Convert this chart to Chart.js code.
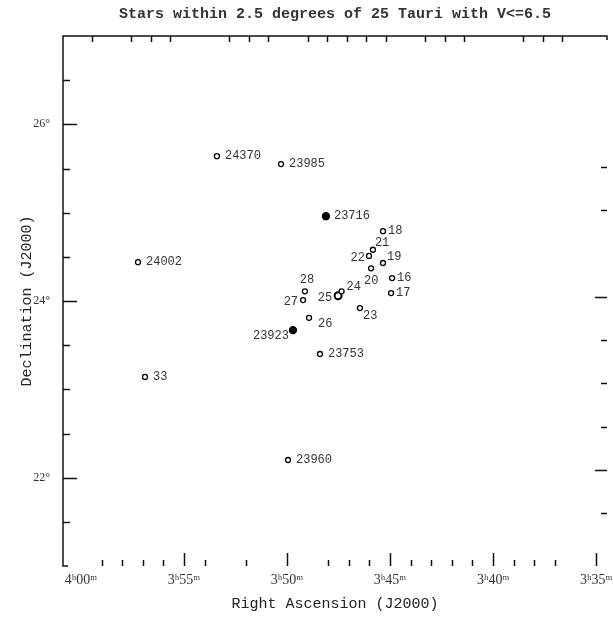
<!DOCTYPE html>
<html>
<head>
<meta charset="utf-8">
<script src="https://cdn.jsdelivr.net/npm/chart.js@4"></script>
<style>
  html, body { margin: 0; padding: 0; background: #fff; }
  #wrap { width: 613px; height: 623px; }
</style>
</head>
<body>
<div id="wrap"><canvas id="pleiades"></canvas></div>
<script>
// RA is in minutes past 3h, Dec in degrees
var starNames = ['24370', '23985', '23716', '18', '21', '22', '19', '20', '16', '17', '23',
                 '25', '24', '28', '27', '26', '23923', '23753', '24002', '33', '23960'];
var starRA  = [53.40, 50.29, 48.11, 45.34, 45.83, 46.02, 45.34, 45.92, 44.90, 44.95, 46.46,
               47.52, 47.35, 49.13, 49.22, 48.93, 49.71, 48.40, 57.23, 56.89, 49.95];
var starDec = [25.64, 25.55, 24.96, 24.79, 24.58, 24.51, 24.43, 24.37, 24.26, 24.09, 23.92,
               24.06, 24.11, 24.11, 24.01, 23.81, 23.67, 23.40, 24.44, 23.14, 22.20];
var filledStars = ['23716', '23923'];

var raTicks = [60, 55, 50, 45, 40, 35];
var raTickLabels = ['4ʰ00ᵐ', '3ʰ55ᵐ', '3ʰ50ᵐ', '3ʰ45ᵐ', '3ʰ40ᵐ', '3ʰ35ᵐ'];
var raMinor = [59, 58, 57, 56, 54, 52, 48, 47, 46, 44, 43, 42, 41, 39, 38, 37];
var raTopTicks = [60, 58, 57, 56, 53, 52, 51, 49, 48, 47, 46, 45, 43, 42, 41, 38, 37, 36];
var decTicks = [26, 24, 22];
var decTickLabels = ['26°', '24°', '22°'];
var decMinor = [26.5, 25.5, 25, 24.5, 23.5, 23, 22.5, 21.5];
var decRightMajor = [24, 22];
var decRightMinor = [25.5, 25, 23.5, 23, 22.5, 21.5];

// where each label sits relative to its star
var labelPlace = {
  '22': [-4, 2, 'right'], '25': [-6, 2, 'right'], '27': [-5, 2, 'right'],
  '23923': [-4, 6, 'right'], '21': [2, -7, 'left'], '28': [2, -11, 'center'],
  '20': [-7, 13, 'left'], '23': [3, 8, 'left'], '26': [9, 6, 'left'],
  '24': [5, -4, 'left'], '19': [4, -6, 'left'], '18': [5, 0, 'left'],
  '16': [5, 0, 'left'], '17': [5, 0, 'left']
};

var points = starNames.map(function(n, i) { return {x: starRA[i], y: starDec[i], name: n}; });

var inkTicks = {
  id: 'inkTicks',
  afterDraw: function(chart) {
    var ctx = chart.ctx, a = chart.chartArea, s = chart.scales;
    ctx.save();
    ctx.strokeStyle = '#111';
    ctx.lineWidth = 1.5;
    ctx.beginPath();
    ctx.moveTo(a.left + 5, a.bottom); ctx.lineTo(a.left, a.bottom);
    ctx.lineTo(a.left, a.top); ctx.lineTo(a.right, a.top); ctx.lineTo(a.right, a.top + 4);
    function vt(scale, vals, len, y0, dir) {
      vals.forEach(function(v) {
        var x = Math.round(scale.getPixelForValue(v)) + 0.5;
        ctx.moveTo(x, y0); ctx.lineTo(x, y0 + dir * len);
      });
    }
    function ht(scale, vals, len, x0, dir) {
      vals.forEach(function(v) {
        var y = Math.round(scale.getPixelForValue(v)) + 0.5;
        ctx.moveTo(x0, y); ctx.lineTo(x0 + dir * len, y);
      });
    }
    vt(s.x, raTicks.slice(1), 13, a.bottom, -1);
    vt(s.x, raMinor, 6, a.bottom, -1);
    vt(s.x2, raTopTicks, 6, a.top, 1);
    ht(s.y, decTicks, 14, a.left, 1);
    ht(s.y, decMinor, 7, a.left, 1);
    ht(s.y2, decRightMajor, 12, a.right, -1);
    ht(s.y2, decRightMinor, 6, a.right, -1);
    ctx.stroke();

    // star labels
    ctx.fillStyle = '#333';
    ctx.font = '12px "Liberation Mono"';
    ctx.textBaseline = 'middle';
    var meta = chart.getDatasetMeta(0);
    meta.data.forEach(function(el, i) {
      var p = labelPlace[starNames[i]] || [8, 0, 'left'];
      ctx.textAlign = p[2];
      ctx.fillText(starNames[i], el.x + p[0], el.y + p[1]);
    });
    ctx.restore();
  }
};

new Chart(document.getElementById('pleiades'), {
  type: 'scatter',
  data: {
    datasets: [{
      data: points,
      pointRadius: function(c) {
        var n = starNames[c.dataIndex];
        return filledStars.indexOf(n) >= 0 ? 3.5 : (n === '25' ? 3.5 : 2.5);
      },
      pointBackgroundColor: function(c) { return filledStars.indexOf(starNames[c.dataIndex]) >= 0 ? '#000' : '#fff'; },
      pointBorderColor: '#000',
      pointBorderWidth: function(c) { return starNames[c.dataIndex] === '25' ? 2 : 1.3; }
    }]
  },
  options: {
    responsive: true,
    maintainAspectRatio: false,
    animation: false,
    layout: { padding: { right: 6 } },
    plugins: {
      legend: { display: false },
      tooltip: { enabled: false },
      title: {
        display: true,
        fullSize: false,
        text: 'Stars within 2.5 degrees of 25 Tauri with V<=6.5',
        color: '#333',
        font: { family: 'Liberation Mono', size: 15, weight: 'bold' },
        padding: { top: 5, bottom: 13 }
      }
    },
    scales: {
      x: {
        type: 'linear', position: 'bottom', reverse: true,
        min: 34.47, max: 60.87,
        afterBuildTicks: function(sc) { sc.ticks = raTicks.map(function(v) { return {value: v}; }); },
        afterFit: function(sc) { sc.height = 57; sc.paddingLeft = 0; sc.paddingRight = 0; },
        grid: { display: false, drawTicks: false },
        border: { display: false },
        ticks: {
          autoSkip: false, maxRotation: 0, padding: 6, color: '#333',
          font: { family: 'Liberation Serif', size: 14 },
          callback: function(v) { return raTickLabels[raTicks.indexOf(v)]; }
        },
        title: {
          display: true, text: 'Right Ascension (J2000)', color: '#222',
          font: { family: 'Liberation Mono', size: 15 },
          padding: { top: 4, bottom: 10 }
        }
      },
      x2: {
        type: 'linear', position: 'top', reverse: true, display: false,
        min: 33.72, max: 61.48
      },
      y: {
        type: 'linear', position: 'left', min: 21, max: 27,
        afterBuildTicks: function(sc) { sc.ticks = decTicks.map(function(v) { return {value: v}; }); },
        afterFit: function(sc) { sc.width = 63; sc.paddingTop = 0; sc.paddingBottom = 0; },
        grid: { display: false, drawTicks: false },
        border: { display: false },
        ticks: {
          padding: 13, color: '#333',
          font: { family: 'Liberation Serif', size: 12 },
          callback: function(v) { return decTickLabels[decTicks.indexOf(v)]; }
        },
        title: {
          display: true, text: 'Declination (J2000)', color: '#222',
          font: { family: 'Liberation Mono', size: 15 },
          padding: { top: 18, bottom: 0 }
        }
      },
      y2: {
        type: 'linear', position: 'right', display: false,
        min: 20.89, max: 27.01
      }
    }
  },
  plugins: [inkTicks]
});
</script>
</body>
</html>
